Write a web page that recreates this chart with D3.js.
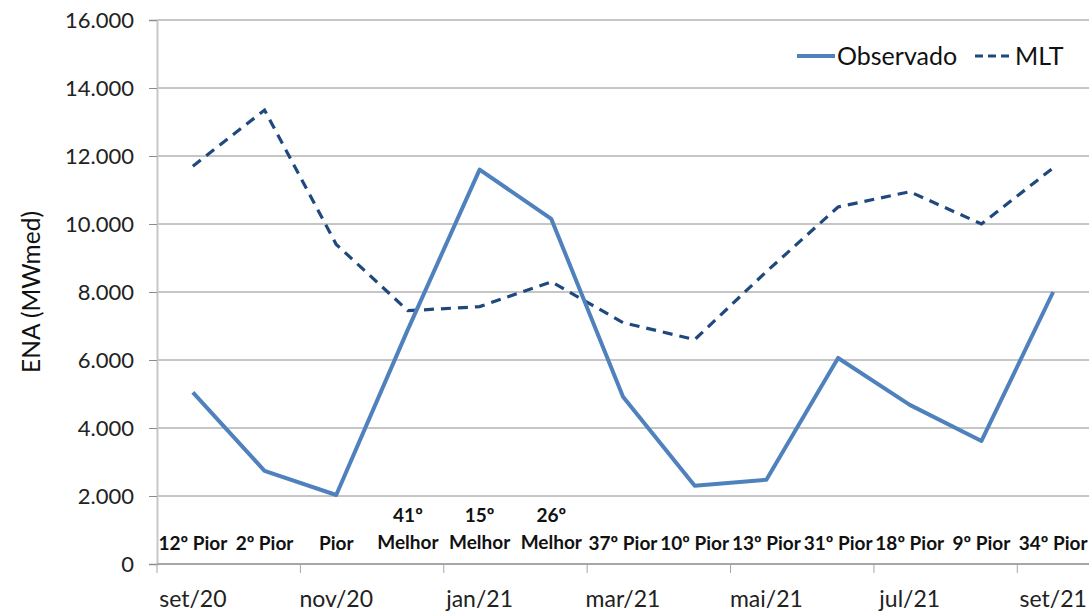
<!DOCTYPE html>
<html>
<head>
<meta charset="utf-8">
<script src="https://cdn.jsdelivr.net/npm/d3@7"></script>
<style>
  body { margin: 0; background: #fff; }
  text { font-family: Lato, "Open Sans", sans-serif; }
</style>
</head>
<body>
<svg width="1090" height="611"></svg>
<script>
// meses (rótulo só a cada 2)
const meses = ["set/20","out/20","nov/20","dez/20","jan/21","fev/21","mar/21","abr/21","mai/21","jun/21","jul/21","ago/21","set/21"];
const observado = [5050, 2740, 2030, 6900, 11600, 10150, 4920, 2300, 2480, 6060, 4680, 3620, 8000];
const mlt = [11700, 13350, 9400, 7450, 7570, 8300, 7100, 6600, 8600, 10500, 10950, 10000, 11650];
// ranking de cada mês (uma ou duas linhas)
const ranking = [["12º Pior"], ["2º Pior"], ["Pior"], ["41º", "Melhor"], ["15º", "Melhor"], ["26º", "Melhor"],
  ["37º Pior"], ["10º Pior"], ["13º Pior"], ["31º Pior"], ["18º Pior"], ["9º Pior"], ["34º Pior"]];
const yTicks = [0, 2000, 4000, 6000, 8000, 10000, 12000, 14000, 16000];

const svg = d3.select("svg");
const mLeft = 157, mRight = 1089, mTop = 20, mBottom = 564;

const x = d3.scaleBand().domain(meses).range([mLeft, mRight]).padding(0);
const y = d3.scaleLinear().domain([0, 16000]).range([mBottom, mTop]);
const cx = d => x(d) + x.bandwidth() / 2;
const fmt = v => d3.format(",")(v).replace(/,/g, ".");

// grade
svg.append("g")
  .selectAll("line")
  .data(yTicks.filter(d => d > 0))
  .join("line")
  .attr("x1", mLeft).attr("x2", mRight)
  .attr("y1", d => y(d)).attr("y2", d => y(d))
  .attr("stroke", "#8c8c8c").attr("stroke-width", 1);

// eixo y
const yAxis = svg.append("g")
  .attr("transform", `translate(${mLeft},0)`)
  .call(d3.axisLeft(y).tickValues(yTicks).tickFormat(fmt).tickSize(8).tickPadding(15));
yAxis.select(".domain").attr("stroke", "#c8c8c8").attr("stroke-width", 2);
yAxis.selectAll(".tick line").attr("stroke", "#8c8c8c");
yAxis.selectAll("text").attr("font-size", 22).attr("fill", "#222");

// eixo x: marcas entre categorias, a cada 2
const xAxis = svg.append("g").attr("transform", `translate(0,${mBottom})`);
xAxis.append("line").attr("x1", mLeft).attr("x2", mRight).attr("stroke", "#a6a6a6").attr("stroke-width", 2);
xAxis.selectAll("line.tk")
  .data(meses.filter((d, i) => i % 2 === 0))
  .join("line").attr("class", "tk")
  .attr("x1", d => x(d)).attr("x2", d => x(d))
  .attr("y1", 0).attr("y2", 9)
  .attr("stroke", "#a6a6a6");
xAxis.selectAll("text")
  .data(meses.filter((d, i) => i % 2 === 0))
  .join("text")
  .attr("x", d => cx(d)).attr("y", 43)
  .attr("text-anchor", "middle")
  .attr("font-size", 23).attr("fill", "#222")
  .text(d => d);

// título eixo y
svg.append("text")
  .attr("transform", `translate(40,${(mTop + mBottom) / 2}) rotate(-90)`)
  .attr("text-anchor", "middle")
  .attr("font-size", 24.5).attr("fill", "#111")
  .text("ENA (MWmed)");

// linhas
const line = d3.line().x((d, i) => cx(meses[i])).y(d => y(d));
svg.append("path").datum(mlt)
  .attr("d", line).attr("fill", "none")
  .attr("stroke", "#1f497d").attr("stroke-width", 3.2)
  .attr("stroke-dasharray", "10,7");
svg.append("path").datum(observado)
  .attr("d", line).attr("fill", "none")
  .attr("stroke", "#4f81bd").attr("stroke-width", 4)
  .attr("stroke-linejoin", "round");

// ranking
const rk = svg.append("g").selectAll("text")
  .data(ranking)
  .join("text")
  .attr("text-anchor", "middle")
  .attr("font-size", 19).attr("font-weight", "bold").attr("fill", "#111")
  .attr("x", (d, i) => cx(meses[i]))
  .attr("y", d => d.length > 1 ? 522 : 550);
rk.selectAll("tspan")
  .data(d => d)
  .join("tspan")
  .attr("x", function() { return this.parentNode.getAttribute("x"); })
  .attr("dy", (d, i) => i === 0 ? 0 : 27)
  .text(d => d);

// legenda
const leg = svg.append("g").attr("transform", "translate(797,56)");
leg.append("line").attr("x1", 0).attr("x2", 38)
  .attr("stroke", "#4f81bd").attr("stroke-width", 4);
leg.append("text").attr("x", 40).attr("y", 9).attr("font-size", 25).attr("fill", "#111").text("Observado");
leg.append("line").attr("x1", 178).attr("x2", 216)
  .attr("stroke", "#1f497d").attr("stroke-width", 3.2).attr("stroke-dasharray", "8,5");
leg.append("text").attr("x", 218).attr("y", 9).attr("font-size", 25).attr("fill", "#111").text("MLT");
</script>
</body>
</html>
